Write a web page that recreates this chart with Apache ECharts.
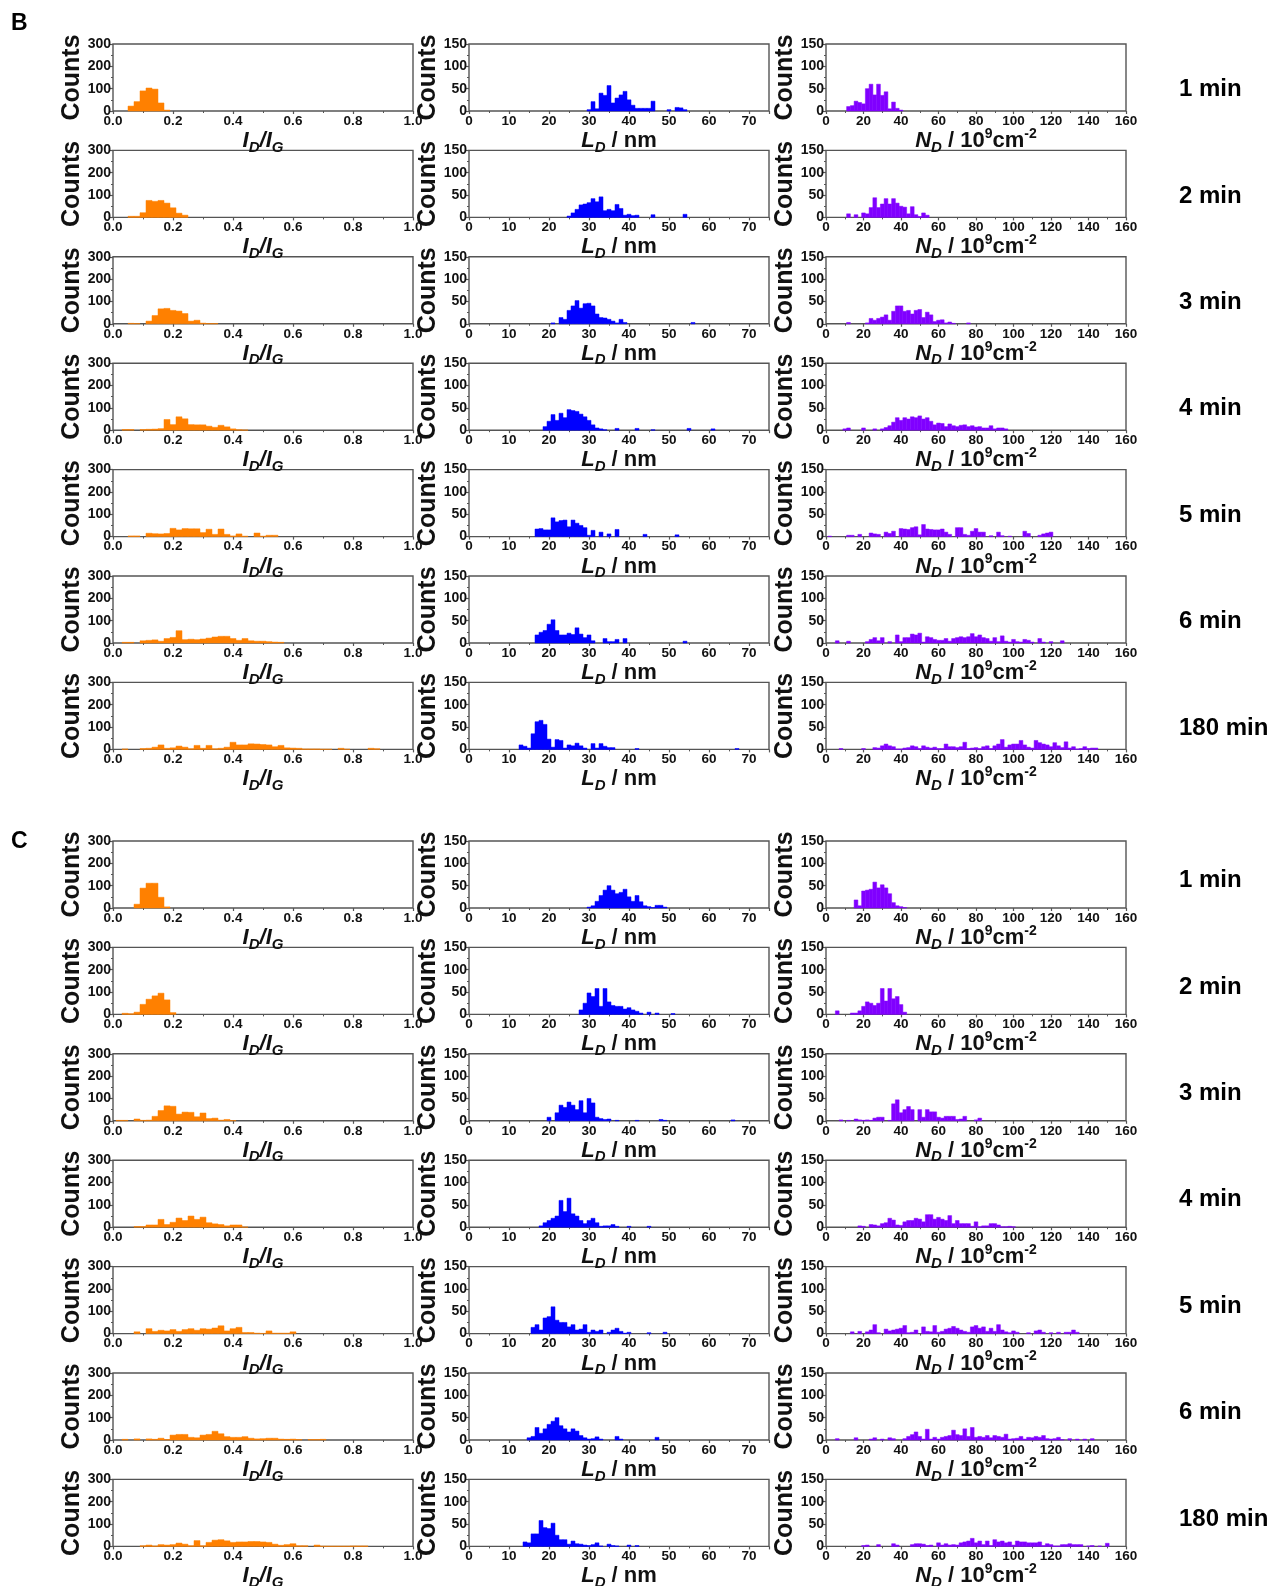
<!DOCTYPE html>
<html>
<head>
<meta charset="utf-8">
<script src="https://cdn.jsdelivr.net/npm/echarts@6/dist/echarts.min.js"></script>
<style>
  html, body { margin: 0; padding: 0; background: #ffffff; }
  #chart { width: 1271px; height: 1586px; }
</style>
</head>
<body>
<div id="chart"></div>
<script>
// ---------------------------------------------------------------------------
// Histogram data. Each row is one annealing time; each list holds the counts
// of consecutive bins, starting at the bin centre given in the *Start arrays.
// Bin widths: I_D/I_G 0.02, L_D 1 nm, N_D 2 x 10^9 cm^-2.
// ---------------------------------------------------------------------------
const timeLabels = ['1 min', '2 min', '3 min', '4 min', '5 min', '6 min', '180 min'];

const ratioTicks = [0, 0.2, 0.4, 0.6, 0.8, 1.0];
const lengthTicks = [0, 10, 20, 30, 40, 50, 60, 70];
const densityTicks = [0, 20, 40, 60, 80, 100, 120, 140, 160];

// Panel B
const ratioStartB = [0.06, 0.06, 0.06, 0.04, 0.06, 0.04, 0.04];
const ratioCountsB = [
  [22, 42, 90, 103, 98, 36, 4],
  [5, 5, 21, 76, 72, 76, 64, 43, 19, 10],
  [2, 1, 0, 12, 37, 67, 69, 60, 57, 46, 12, 16, 3, 1, 1],
  [3, 3, 0, 3, 4, 5, 7, 48, 25, 60, 51, 25, 24, 24, 18, 13, 22, 15, 6, 2, 1],
  [3, 3, 0, 15, 13, 12, 14, 37, 30, 36, 35, 35, 18, 33, 10, 34, 10, 3, 12, 2, 0, 16, 2, 6, 6],
  [3, 3, 0, 10, 12, 14, 8, 20, 25, 55, 15, 17, 15, 18, 22, 27, 30, 30, 20, 12, 20, 10, 8, 8, 6, 4, 3],
  [2, 0, 0, 4, 5, 10, 20, 5, 7, 15, 10, 3, 18, 5, 18, 3, 5, 10, 32, 20, 20, 25, 24, 22, 20, 12, 18, 7, 6, 5, 2, 2, 2, 1, 1, 0, 5, 1, 0, 0, 0, 5, 3]
];

const lengthStartB = [30, 25, 21, 19, 17, 17, 13];
const lengthCountsB = [
  [3, 21, 5, 40, 35, 57, 18, 29, 36, 44, 25, 13, 6, 6, 6, 6, 22, 0, 0, 0, 3, 0, 8, 7, 3],
  [3, 10, 18, 28, 30, 33, 42, 35, 46, 15, 18, 15, 29, 20, 5, 7, 4, 5, 0, 0, 0, 6, 0, 0, 0, 0, 0, 0, 0, 7],
  [2, 0, 14, 10, 30, 40, 52, 35, 45, 46, 40, 22, 14, 13, 10, 6, 2, 10, 3, 0, 0, 0, 0, 0, 0, 0, 0, 0, 0, 0, 0, 0, 0, 0, 0, 3],
  [8, 20, 35, 22, 38, 28, 46, 44, 42, 36, 30, 22, 12, 5, 3, 1, 0, 0, 4, 0, 0, 0, 0, 4, 0, 0, 0, 1, 0, 0, 0, 0, 0, 0, 0, 0, 4, 0, 0, 0, 0, 0, 3],
  [17, 18, 15, 15, 42, 33, 36, 37, 22, 37, 30, 25, 20, 3, 14, 0, 10, 0, 6, 0, 16, 0, 0, 0, 0, 0, 0, 5, 0, 0, 0, 0, 0, 0, 0, 4],
  [18, 24, 28, 42, 52, 28, 18, 18, 22, 19, 34, 20, 12, 18, 5, 0, 0, 10, 3, 3, 8, 0, 10, 0, 0, 0, 0, 0, 0, 0, 0, 0, 0, 0, 0, 0, 0, 4],
  [10, 7, 3, 35, 62, 65, 56, 23, 5, 22, 20, 3, 10, 8, 14, 8, 3, 0, 13, 3, 13, 7, 4, 4, 0, 0, 0, 0, 0, 2, 0, 0, 0, 0, 0, 0, 0, 0, 0, 0, 0, 0, 0, 0, 0, 0, 0, 0, 0, 0, 0, 0, 0, 0, 2]
];

const densityStartB = [12, 12, 12, 10, 2, 6, 8];
const densityCountsB = [
  [10, 12, 22, 19, 16, 50, 60, 36, 60, 35, 43, 5, 20, 6, 2],
  [8, 0, 6, 0, 10, 8, 22, 44, 22, 30, 42, 30, 42, 32, 25, 23, 8, 24, 6, 2, 10, 5],
  [3, 0, 0, 0, 0, 2, 12, 8, 12, 15, 20, 8, 28, 40, 40, 28, 30, 22, 30, 32, 14, 26, 20, 5, 8, 9, 2, 4, 1, 0, 0, 0, 2],
  [3, 5, 0, 0, 0, 5, 0, 0, 3, 0, 3, 6, 10, 18, 28, 22, 28, 25, 30, 28, 32, 25, 28, 20, 12, 16, 15, 8, 14, 10, 8, 11, 12, 8, 10, 7, 8, 5, 5, 10, 3, 5, 5, 3],
  [1, 0, 0, 0, 0, 3, 3, 0, 5, 0, 0, 8, 6, 5, 0, 10, 7, 12, 0, 18, 17, 16, 20, 22, 4, 27, 17, 16, 15, 15, 17, 10, 5, 0, 20, 20, 5, 3, 12, 18, 10, 10, 0, 2, 0, 10, 2, 0, 1, 0, 0, 0, 12, 7, 0, 0, 3, 6, 8, 10],
  [5, 0, 0, 4, 0, 0, 0, 0, 3, 8, 12, 5, 12, 0, 3, 0, 18, 3, 12, 12, 20, 18, 22, 2, 14, 12, 8, 6, 6, 10, 4, 10, 12, 14, 12, 14, 21, 14, 18, 12, 10, 4, 12, 3, 16, 4, 2, 8, 3, 2, 8, 6, 2, 0, 10, 2, 0, 3, 0, 0, 5],
  [2, 0, 0, 0, 0, 0, 2, 0, 0, 4, 3, 8, 12, 8, 6, 1, 1, 3, 4, 8, 6, 2, 8, 5, 3, 5, 2, 2, 12, 6, 6, 4, 6, 16, 2, 3, 4, 2, 6, 8, 2, 8, 12, 22, 5, 10, 12, 12, 20, 10, 5, 3, 20, 15, 12, 10, 6, 15, 8, 4, 17, 3, 6, 1, 2, 6, 2, 3, 3]
];

// Panel C
const ratioStartC = [0.08, 0.04, 0.02, 0.08, 0.08, 0.04, 0.10];
const ratioCountsC = [
  [17, 89, 111, 111, 48, 5],
  [5, 3, 10, 45, 68, 83, 95, 65, 8],
  [2, 2, 0, 8, 2, 3, 20, 46, 67, 65, 30, 39, 38, 18, 35, 10, 12, 3, 6, 1],
  [3, 3, 10, 10, 35, 12, 22, 41, 30, 50, 35, 45, 20, 15, 12, 6, 10, 10, 1],
  [8, 0, 22, 10, 15, 12, 18, 10, 18, 22, 15, 22, 20, 25, 35, 12, 22, 28, 5, 5, 2, 1, 12, 2, 2, 2, 8],
  [3, 0, 5, 0, 5, 3, 8, 2, 22, 25, 25, 12, 10, 22, 25, 39, 28, 15, 12, 12, 15, 8, 5, 6, 8, 8, 4, 3, 4, 2, 0, 2, 2, 3],
  [3, 6, 2, 8, 6, 8, 15, 10, 3, 26, 3, 18, 28, 30, 25, 18, 20, 20, 22, 22, 20, 18, 10, 5, 8, 12, 3, 3, 0, 6, 1, 1, 1, 1, 1, 2, 2, 2]
];

const lengthStartC = [30, 28, 20, 18, 16, 15, 14];
const lengthCountsC = [
  [2, 5, 15, 28, 40, 50, 40, 32, 35, 42, 25, 15, 28, 14, 5, 3, 1, 6, 6, 2],
  [10, 25, 48, 40, 58, 18, 58, 28, 20, 18, 18, 12, 15, 10, 7, 3, 0, 5, 0, 3, 0, 0, 0, 2],
  [8, 0, 18, 35, 30, 42, 35, 25, 45, 18, 50, 40, 8, 5, 3, 4, 0, 1, 0, 0, 0, 0, 1, 0, 0, 0, 0, 0, 3, 1, 0, 0, 0, 0, 0, 0, 0, 0, 0, 0, 0, 0, 0, 0, 0, 0, 2],
  [3, 10, 15, 20, 25, 60, 35, 65, 30, 25, 15, 8, 15, 20, 10, 2, 3, 3, 6, 2, 0, 0, 2, 0, 0, 0, 0, 2],
  [14, 20, 8, 35, 38, 60, 30, 25, 25, 15, 20, 8, 10, 20, 3, 8, 5, 8, 0, 3, 8, 12, 5, 1, 3, 0, 0, 0, 0, 2, 0, 0, 0, 3],
  [5, 8, 28, 15, 25, 35, 42, 50, 32, 25, 18, 25, 20, 10, 5, 2, 3, 7, 2, 0, 0, 0, 8, 2, 0, 0, 0, 0, 0, 0, 0, 0, 6],
  [10, 8, 28, 28, 58, 42, 40, 52, 25, 15, 15, 5, 12, 6, 5, 3, 2, 4, 8, 1, 0, 5, 2, 1, 0, 0, 3, 0, 2]
];

const densityStartC = [16, 6, 8, 18, 14, 6, 20];
const densityCountsC = [
  [18, 5, 38, 40, 42, 58, 45, 52, 45, 32, 12, 5, 3, 1],
  [8, 0, 0, 0, 3, 3, 8, 18, 28, 25, 20, 25, 58, 30, 58, 35, 40, 22, 5],
  [2, 0, 1, 0, 4, 2, 1, 2, 1, 6, 8, 8, 0, 1, 38, 47, 18, 25, 32, 25, 0, 25, 8, 25, 20, 20, 8, 6, 10, 10, 10, 3, 4, 10, 0, 0, 2, 6],
  [3, 2, 0, 6, 5, 3, 8, 10, 20, 16, 5, 4, 12, 15, 15, 20, 18, 12, 28, 28, 18, 22, 18, 15, 26, 8, 15, 8, 8, 8, 2, 12, 1, 3, 3, 8, 8, 5, 1, 1, 2, 1],
  [4, 0, 5, 0, 4, 8, 20, 2, 0, 10, 6, 8, 10, 12, 18, 2, 3, 8, 0, 15, 5, 4, 18, 3, 5, 10, 12, 16, 12, 8, 5, 3, 15, 18, 12, 15, 5, 12, 5, 20, 8, 4, 2, 6, 3, 0, 0, 2, 0, 6, 8, 3, 0, 2, 0, 3, 0, 3, 3, 8, 3],
  [3, 0, 0, 0, 0, 5, 0, 0, 0, 2, 5, 0, 2, 0, 5, 3, 0, 0, 3, 8, 12, 18, 8, 2, 24, 2, 6, 2, 6, 8, 10, 22, 12, 10, 25, 8, 28, 6, 8, 6, 10, 5, 10, 8, 6, 13, 2, 3, 4, 8, 2, 6, 5, 8, 6, 10, 3, 2, 3, 6, 1, 0, 3, 0, 2, 0, 2, 0, 3],
  [2, 3, 0, 0, 4, 0, 0, 0, 6, 3, 0, 0, 0, 4, 6, 6, 5, 2, 3, 0, 8, 3, 6, 3, 4, 3, 8, 10, 12, 18, 8, 12, 4, 12, 2, 15, 10, 12, 8, 10, 3, 12, 10, 10, 8, 8, 8, 10, 2, 6, 4, 1, 1, 4, 4, 6, 4, 4, 4, 0, 1, 2, 0, 1, 0, 7]
];

// ---------------------------------------------------------------------------
// Layout and styling
// ---------------------------------------------------------------------------
const FONT = '"Liberation Sans", Arial, Helvetica, sans-serif';
const FRAME = '#555555';
const INK = '#111111';

const nameRich = {
  it:    { fontFamily: FONT, fontStyle: 'italic', fontWeight: 'bold', fontSize: 22, lineHeight: 28, color: INK },
  itSub: { fontFamily: FONT, fontStyle: 'italic', fontWeight: 'bold', fontSize: 15, lineHeight: 15, verticalAlign: 'bottom', color: INK },
  up:    { fontFamily: FONT, fontWeight: 'bold', fontSize: 22, lineHeight: 28, color: INK },
  sup:   { fontFamily: FONT, fontWeight: 'bold', fontSize: 14, lineHeight: 14, verticalAlign: 'top', color: INK }
};

const columnDefs = [
  {
    left: 113, color: '#FF8000', binWidth: 0.02,
    ticks: ratioTicks, yMax: 300, yStep: 100,
    name: '{it|I}{itSub|D}{it|/I}{itSub|G}',
    format: v => v.toFixed(1)
  },
  {
    left: 469, color: '#0000FF', binWidth: 1,
    ticks: lengthTicks, yMax: 150, yStep: 50, xMax: 75,
    name: '{it|L}{itSub|D}{up| / nm}',
    format: v => (lengthTicks.indexOf(v) >= 0 ? String(v) : '')
  },
  {
    left: 826, color: '#8000FF', binWidth: 2,
    ticks: densityTicks, yMax: 150, yStep: 50,
    name: '{it|N}{itSub|D}{up| / 10}{sup|9}{up|cm}{sup|-2}',
    format: v => String(v)
  }
];

const panels = [
  {
    letter: 'B', top: 44, letterTop: 12, labelShift: 12,
    starts: [ratioStartB, lengthStartB, densityStartB],
    counts: [ratioCountsB, lengthCountsB, densityCountsB]
  },
  {
    letter: 'C', top: 841, letterTop: 830, labelShift: 6,
    starts: [ratioStartC, lengthStartC, densityStartC],
    counts: [ratioCountsC, lengthCountsC, densityCountsC]
  }
];

const ROW_PITCH = 106.4;
const PLOT_W = 300;
const PLOT_H = 67;

// One histogram bin: a rectangle spanning [centre - w/2, centre + w/2] x [0, count]
function drawBin(params, api) {
  const centre = api.value(0);
  const count = api.value(1);
  const w = api.value(2);
  const topLeft = api.coord([centre - w / 2, count]);
  const bottomRight = api.coord([centre + w / 2, 0]);
  const color = api.visual('color');
  return {
    type: 'rect',
    shape: {
      x: topLeft[0],
      y: topLeft[1],
      width: bottomRight[0] - topLeft[0],
      height: bottomRight[1] - topLeft[1]
    },
    style: { fill: color, stroke: color, lineWidth: 0.5 }
  };
}

function binsOf(start, counts, width) {
  const out = [];
  counts.forEach((c, i) => {
    if (c > 0) out.push([+(start + i * width).toFixed(4), c, width]);
  });
  return out;
}

const grid = [], xAxis = [], yAxis = [], series = [], graphic = [];

panels.forEach(panel => {
  graphic.push({
    type: 'text', left: 11, top: panel.letterTop,
    style: { text: panel.letter, font: 'bold 23px ' + FONT, fill: '#000' }
  });

  timeLabels.forEach((label, row) => {
    const top = panel.top + row * ROW_PITCH;

    graphic.push({
      type: 'text', x: 1179, y: top + PLOT_H / 2 + panel.labelShift,
      style: {
        text: label, font: 'bold 24px ' + FONT, fill: '#000',
        textVerticalAlign: 'middle', textAlign: 'left'
      }
    });

    columnDefs.forEach((col, c) => {
      const idx = grid.length;
      const xMin = col.ticks[0];
      const xMax = col.xMax !== undefined ? col.xMax : col.ticks[col.ticks.length - 1];
      const xStep = col.ticks[1] - col.ticks[0];

      grid.push({
        left: col.left, top: top, width: PLOT_W, height: PLOT_H,
        show: true, borderColor: FRAME, borderWidth: 1.4,
        backgroundColor: 'transparent', containLabel: false,
        outerBoundsMode: 'none'
      });

      xAxis.push({
        type: 'value', gridIndex: idx,
        min: xMin, max: xMax, interval: xStep,
        splitLine: { show: false },
        axisLine: { show: false },
        axisTick: { show: true, inside: false, length: 3, lineStyle: { color: FRAME, width: 1.2 } },
        minorTick: { show: true, splitNumber: 2, length: 2, lineStyle: { color: FRAME, width: 1 } },
        axisLabel: {
          show: true, margin: 3, fontSize: 13.5, fontWeight: 'bold',
          fontFamily: FONT, color: INK, formatter: col.format,
          showMinLabel: true, showMaxLabel: col.xMax === undefined,
          hideOverlap: false
        },
        name: col.name,
        nameLocation: 'middle',
        nameGap: 16,
        nameMoveOverlap: false,
        nameTextStyle: { rich: nameRich, fontFamily: FONT, fontSize: 22, color: INK }
      });

      yAxis.push({
        type: 'value', gridIndex: idx,
        min: 0, max: col.yMax, interval: col.yStep,
        splitLine: { show: false },
        axisLine: { show: false },
        axisTick: { show: true, inside: false, length: 3, lineStyle: { color: FRAME, width: 1.2 } },
        minorTick: { show: true, splitNumber: 2, length: 2, lineStyle: { color: FRAME, width: 1 } },
        axisLabel: {
          show: true, margin: 2, fontSize: 14, fontWeight: 'bold',
          fontFamily: FONT, color: INK, hideOverlap: false
        },
        name: 'Counts',
        nameLocation: 'middle',
        nameRotate: 90,
        nameGap: 28,
        nameMoveOverlap: false,
        nameTextStyle: { fontFamily: FONT, fontWeight: 'bold', fontSize: 25, color: '#111' }
      });

      series.push({
        type: 'custom',
        xAxisIndex: idx, yAxisIndex: idx,
        renderItem: drawBin,
        itemStyle: { color: col.color },
        encode: { x: 0, y: 1 },
        data: binsOf(panel.starts[c][row], panel.counts[c][row], col.binWidth),
        silent: true,
        animation: false
      });
    });
  });
});

const chart = echarts.init(document.getElementById('chart'), null, { renderer: 'canvas' });
chart.setOption({
  backgroundColor: '#ffffff',
  animation: false,
  grid, xAxis, yAxis, series, graphic
});
</script>
</body>
</html>
